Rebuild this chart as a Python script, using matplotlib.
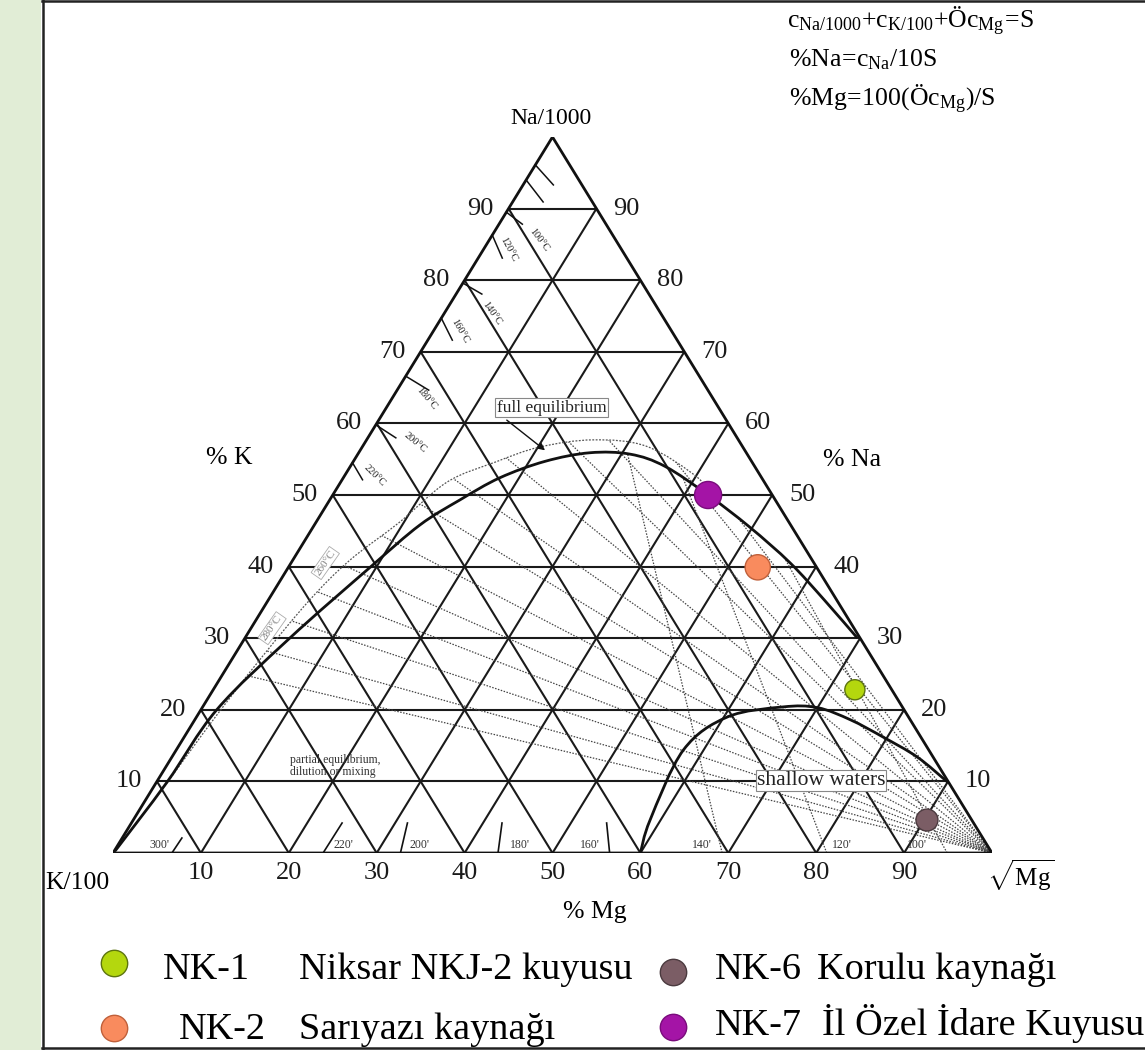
import numpy as np
import matplotlib
matplotlib.use("Agg")
import matplotlib.pyplot as plt
from matplotlib.patches import Polygon, Rectangle, PathPatch
from matplotlib.path import Path

plt.rcParams['font.family'] = ['Liberation Serif', 'DejaVu Serif']
plt.rcParams['mathtext.fontset'] = 'custom'
plt.rcParams['mathtext.rm'] = 'Liberation Serif'
plt.rcParams['mathtext.it'] = 'Liberation Serif:italic'

# ---------------------------------------------------------------- data
samples = ['NK-1', 'NK-2', 'NK-6', 'NK-7']
sample_names = ['Niksar NKJ-2 kuyusu', 'Sarıyazı kaynağı',
                'Korulu kaynağı', 'İl Özel İdare Kuyusu']
sample_na = [22.8, 39.9, 4.6, 50.0]      # %Na
sample_mg = [73.0, 53.4, 90.3, 42.7]     # %Mg
sample_colors = ['#b4d70e', '#f98b5e', '#7b5d65', '#a414a6']
sample_edges = ['#5d7410', '#c0603a', '#4b3a3f', '#7a0c7c']
sample_sizes = [210, 330, 250, 380]

ticks = [10, 20, 30, 40, 50, 60, 70, 80, 90]

# full equilibrium line (%Na, %Mg)
full_na = [0.3, 9.9, 20.0, 30.0, 39.9, 45.8, 49.3, 52.4, 54.7, 55.9, 55.7,
           54.0, 50.0, 45.5, 40.5, 35.3, 30.0]
full_mg = [0.1, 1.2, 1.8, 5.1, 9.3, 12.0, 14.8, 17.8, 21.8, 26.3, 31.0,
           35.8, 42.7, 49.7, 56.8, 63.3, 69.7]

# outer dotted envelope (%Na, %Mg)
outer_na = [0.3, 9.5, 18.6, 27.0, 35.3, 40.9, 46.2, 51.8, 54.6, 56.7, 57.7,
            56.8, 52.5, 50.0]
outer_mg = [0.1, 1.2, 2.1, 3.2, 4.7, 6.5, 9.5, 12.1, 16.2, 20.2, 25.8,
            32.3, 40.2, 42.7]

# shallow waters boundary (%Na, %Mg)
shallow_na = [0.0, 4.6, 14.4, 19.0, 20.4, 20.3, 18.6, 16.2, 13.4, 9.9]
shallow_mg = [60.0, 58.8, 57.7, 60.4, 66.0, 70.0, 74.6, 79.5, 84.8, 90.0]

# Na-K isotherms (100-340 °C): %Na on the Na-K side of each line through
# the sqrt(Mg) corner
nak_edge_na = [89.5, 86.3, 79.6, 74.7, 66.6, 59.8, 54.5, 48.4, 42.8, 38.4,
               33.8, 29.2, 25.5]

# K-Mg isotherms: label and %Mg where each meets the base
kmg_labels = ["300'", "220'", "200'", "180'", "160'", "140'", "120'", "100'"]
kmg_base = [6.7, 23.9, 32.7, 43.8, 56.5, 69.3, 81.2, 94.9]
kmg_dotted = [False, False, False, False, False, True, True, True]

# Na-K isotherm marks on the K side: label and %Na where the mark starts
nak_labels = ['', '', '100°C', '120°C', '140°C', '160°C', '180°C', '200°C', '220°C']
nak_mark_na = [96.1, 94.0, 89.5, 86.3, 79.6, 74.7, 66.6, 59.8, 54.5]

W, H = 1145, 1050
fig = plt.figure(figsize=(W / 100, H / 100), dpi=100)
fig.patch.set_facecolor('white')

# triangle frame in figure pixels
PX0, PX1, PYB, PYT = 113, 992, 853, 137
SX, SY = (PX1 - PX0) / 100.0, (PYB - PYT) / 100.0
ax = fig.add_axes([PX0 / W, 1 - PYB / H, (PX1 - PX0) / W, (PYB - PYT) / H])
ax.set_xlim(0, 100)
ax.set_ylim(0, 100)
ax.axis('off')


def cart(na, mg):
    na = np.asarray(na, float)
    mg = np.asarray(mg, float)
    return mg + na / 2.0, na


def shift(xy, dx, dy):
    """offset a data point by a pixel amount (dy positive = downwards)"""
    return xy[0] + dx / SX, xy[1] - dy / SY


def fpx(x, y):
    return x / W, 1 - y / H


def smooth_path(x, y):
    """Catmull-Rom curve through the points, as cubic Bezier segments"""
    p = np.column_stack([x, y])
    n = len(p)
    verts = [p[0]]
    codes = [Path.MOVETO]
    for i in range(n - 1):
        p0 = p[i - 1] if i > 0 else p[i]
        p3 = p[i + 2] if i + 2 < n else p[i + 1]
        c1 = p[i] + (p[i + 1] - p0) / 6.0
        c2 = p[i + 1] - (p3 - p[i]) / 6.0
        verts += [c1, c2, p[i + 1]]
        codes += [Path.CURVE4] * 3
    return Path(np.array(verts), codes)


# page decoration: green margin and frame
fig.add_artist(Rectangle((0, 0), 41 / W, 1, transform=fig.transFigure,
                         facecolor='#e1edd6', edgecolor='none', zorder=0))
for xs, ys in [([42.5, 42.5], [0, 1050]), ([42, 1145], [1.2, 1.2]),
               ([42, 1145], [1048, 1048])]:
    fig.add_artist(plt.Line2D([v / W for v in xs], [1 - v / H for v in ys],
                              transform=fig.transFigure, color='#222222', lw=1.8))

# ---------------------------------------------------------------- grid
grid_kw = dict(color='#1a1a1a', lw=1.5, zorder=2, solid_capstyle='butt')
for t in ticks:
    x, y = cart([t, t], [0, 100 - t])
    ax.plot(x, y, **grid_kw)
    x, y = cart([0, 100 - t], [t, t])
    ax.plot(x, y, **grid_kw)
    x, y = cart([0, 100 - t], [100 - t, 0])
    ax.plot(x, y, **grid_kw)

tx, ty = cart([0, 100, 0, 0], [0, 0, 100, 0])
ax.plot(tx, ty, color='#111111', lw=2.0, zorder=4, solid_joinstyle='miter')

# ---------------------------------------------------------------- curves
fx, fy = cart(full_na, full_mg)
full_path = smooth_path(fx, fy)
ax.add_patch(PathPatch(full_path, fc='none', ec='#111111', lw=2.0, zorder=4))

ox, oy = cart(outer_na, outer_mg)
outer_path = smooth_path(ox, oy)
ax.add_patch(PathPatch(outer_path, fc='none', ec='#555555', lw=0.9,
                       ls=(0, (1.5, 1.2)), zorder=3))

sx, sy = cart(shallow_na, shallow_mg)
ax.add_patch(PathPatch(smooth_path(sx, sy), fc='none', ec='#111111', lw=2.0, zorder=4))

# ---------------------------------------------------------------- isotherms
dot_kw = dict(color='#444444', lw=0.9, ls=(0, (1.2, 1.2)), zorder=3)

full_poly = full_path.to_polygons(closed_only=False)[0]
outer_poly = outer_path.to_polygons(closed_only=False)[0]
i_join = int(np.argmin(np.hypot(full_poly[:, 0] - outer_poly[-1, 0],
                                full_poly[:, 1] - outer_poly[-1, 1])))
clip1 = Polygon(np.vstack([outer_poly, full_poly[i_join:], [[100.0, 0.0], [0.0, 0.0]]]),
                closed=True, transform=ax.transData, fc='none', ec='none')
ax.add_patch(clip1)
for n in nak_edge_na:
    x, y = cart([n, 0], [0, 100])
    ln, = ax.plot(x, y, **dot_kw)
    ln.set_clip_path(clip1)

clip2 = Polygon(np.vstack([full_poly, [[100.0, 0.0]]]), closed=True,
                transform=ax.transData, fc='none', ec='none')
ax.add_patch(clip2)

base_tick_px = [(10, -15), (19, -30), (7, -30), (4, -30), (-3, -30)]
base_label_dx = [-1.4, 2.3, 2.2, 2.5, -2.2, -2.3, 1.7, -3.4]
for i, (lab, m, dotted) in enumerate(zip(kmg_labels, kmg_base, kmg_dotted)):
    if dotted:
        x, y = cart([0, 100], [m, 0])
        ln, = ax.plot(x, y, **dot_kw)
        ln.set_clip_path(clip2)
    else:
        p0 = cart(0, m)
        p1 = shift(p0, *base_tick_px[i])
        ax.plot([p0[0], p1[0]], [p0[1], p1[1]], color='#111111', lw=1.2, zorder=3)
    ax.text(m + base_label_dx[i], 1.15, lab, fontsize=8.5, ha='center', va='center',
            color='#333333', zorder=5)

# Na-K isotherm marks on the K side
mark_px = [(18, 20), (17, 22), (16, 12), (10, 23), (19, 11), (11, 22), (23, 14),
           (20, 13), (10, 17)]
label_px = [None, None, (33, 28), (16, 14), (29, 30), (19, 13), (21, 22),
            (39, 18), (22, 13)]
label_rot = [0, 0, -53, -62, -55, -60, -50, -40, -45]
for lab, n, mp, lp, rot in zip(nak_labels, nak_mark_na, mark_px, label_px, label_rot):
    p0 = cart(n, 0)
    p1 = shift(p0, *mp)
    ax.plot([p0[0], p1[0]], [p0[1], p1[1]], color='#111111', lw=1.1, zorder=5)
    if lab:
        ax.text(*shift(p0, *lp), lab, fontsize=7.5, rotation=rot, ha='center',
                va='center', color='#222222', zorder=5)

for lab, (na, mg) in zip(['260°C', '280°C'], [(40.5, 3.9), (31.4, 2.4)]):
    ax.text(*cart(na, mg), lab, fontsize=8, rotation=55, ha='center', va='center',
            color='#808080', zorder=5,
            bbox=dict(boxstyle='square,pad=0.15', fc='white', ec='#aaaaaa', lw=0.6))

# ---------------------------------------------------------------- annotations
ax.text(*cart(62.2, 18.8), 'full equilibrium', fontsize=12.5, ha='center',
        va='center', color='#222222', zorder=6,
        bbox=dict(boxstyle='square,pad=0.1', fc='white', ec='#888888', lw=0.8))
ax.annotate('', xy=cart(56.0, 21.4), xytext=cart(60.7, 14.2),
            arrowprops=dict(arrowstyle='-|>', color='#111111', lw=1.0,
                            mutation_scale=10), zorder=6)
ax.text(*cart(10.1, 75.5), 'shallow waters', fontsize=15.5, ha='center', va='center',
        color='#222222', zorder=6,
        bbox=dict(boxstyle='square,pad=0.05', fc='white', ec='#888888', lw=0.8))
ax.text(*shift(cart(0, 0), 177, -87), 'partial equilibrium,\ndilution or mixing',
        fontsize=8.5, ha='left', va='center', color='#333333', linespacing=0.95,
        zorder=6)

# ---------------------------------------------------------------- samples
px_, py_ = cart(sample_na, sample_mg)
ax.scatter(px_, py_, s=sample_sizes, c=sample_colors, edgecolors=sample_edges,
           linewidths=1.0, zorder=8, clip_on=False)

# ---------------------------------------------------------------- labels
lab_kw = dict(fontsize=19, color='#1a1a1a', ha='center', va='center')
for t in ticks:
    x, y = cart(t, 0)
    ax.text(*shift((x, y), -28, 0), str(t), **lab_kw)
    x, y = cart(t, 100 - t)
    ax.text(*shift((x, y), 30, 0), str(t), **lab_kw)
    x, y = cart(0, t)
    ax.text(*shift((x, y), 0, 20), str(t), **lab_kw)

fig.text(*fpx(551, 118), 'Na/1000', fontsize=17, ha='center', va='center')
fig.text(*fpx(229, 458), '% K', fontsize=18.5, ha='center', va='center')
fig.text(*fpx(852, 460), '% Na', fontsize=18.5, ha='center', va='center')
fig.text(*fpx(77, 883), 'K/100', fontsize=18.5, ha='center', va='center')
fig.text(*fpx(595, 912), '% Mg', fontsize=18.5, ha='center', va='center')
fig.text(*fpx(1021, 875), r'$\sqrt{\mathregular{Mg}}$', fontsize=18,
         ha='center', va='center')

fig.text(*fpx(787, 21), r'$\mathregular{c_{Na/1000}{+}c_{K/100}{+}Öc_{Mg}\!=\!S}$',
         fontsize=18.5, ha='left', va='center')
fig.text(*fpx(789, 60), r'$\mathregular{\%Na\!=\!c_{Na}/10S}$',
         fontsize=18.5, ha='left', va='center')
fig.text(*fpx(789, 99), r'$\mathregular{\%Mg\!=\!100(Öc_{Mg})/S}$',
         fontsize=18.5, ha='left', va='center')

# ---------------------------------------------------------------- legend
leg_pos = [(114, 963), (114, 1028), (673, 972), (673, 1027)]
code_x = [163, 179, 715, 715]
name_x = [299, 299, 817, 822]
base_y = [979, 1039, 979, 1035]
for i, (cx, cy) in enumerate(leg_pos):
    fig.add_artist(plt.Line2D([cx / W], [1 - cy / H], transform=fig.transFigure,
                              marker='o', ms=19, mfc=sample_colors[i],
                              mec=sample_edges[i], mew=1.0, ls='none'))
    fig.text(*fpx(code_x[i], base_y[i]), samples[i], fontsize=27.5, ha='left',
             va='baseline')
    fig.text(*fpx(name_x[i], base_y[i]), sample_names[i], fontsize=27.5, ha='left',
             va='baseline')

fig.savefig('out.png', dpi=100, facecolor='white')
